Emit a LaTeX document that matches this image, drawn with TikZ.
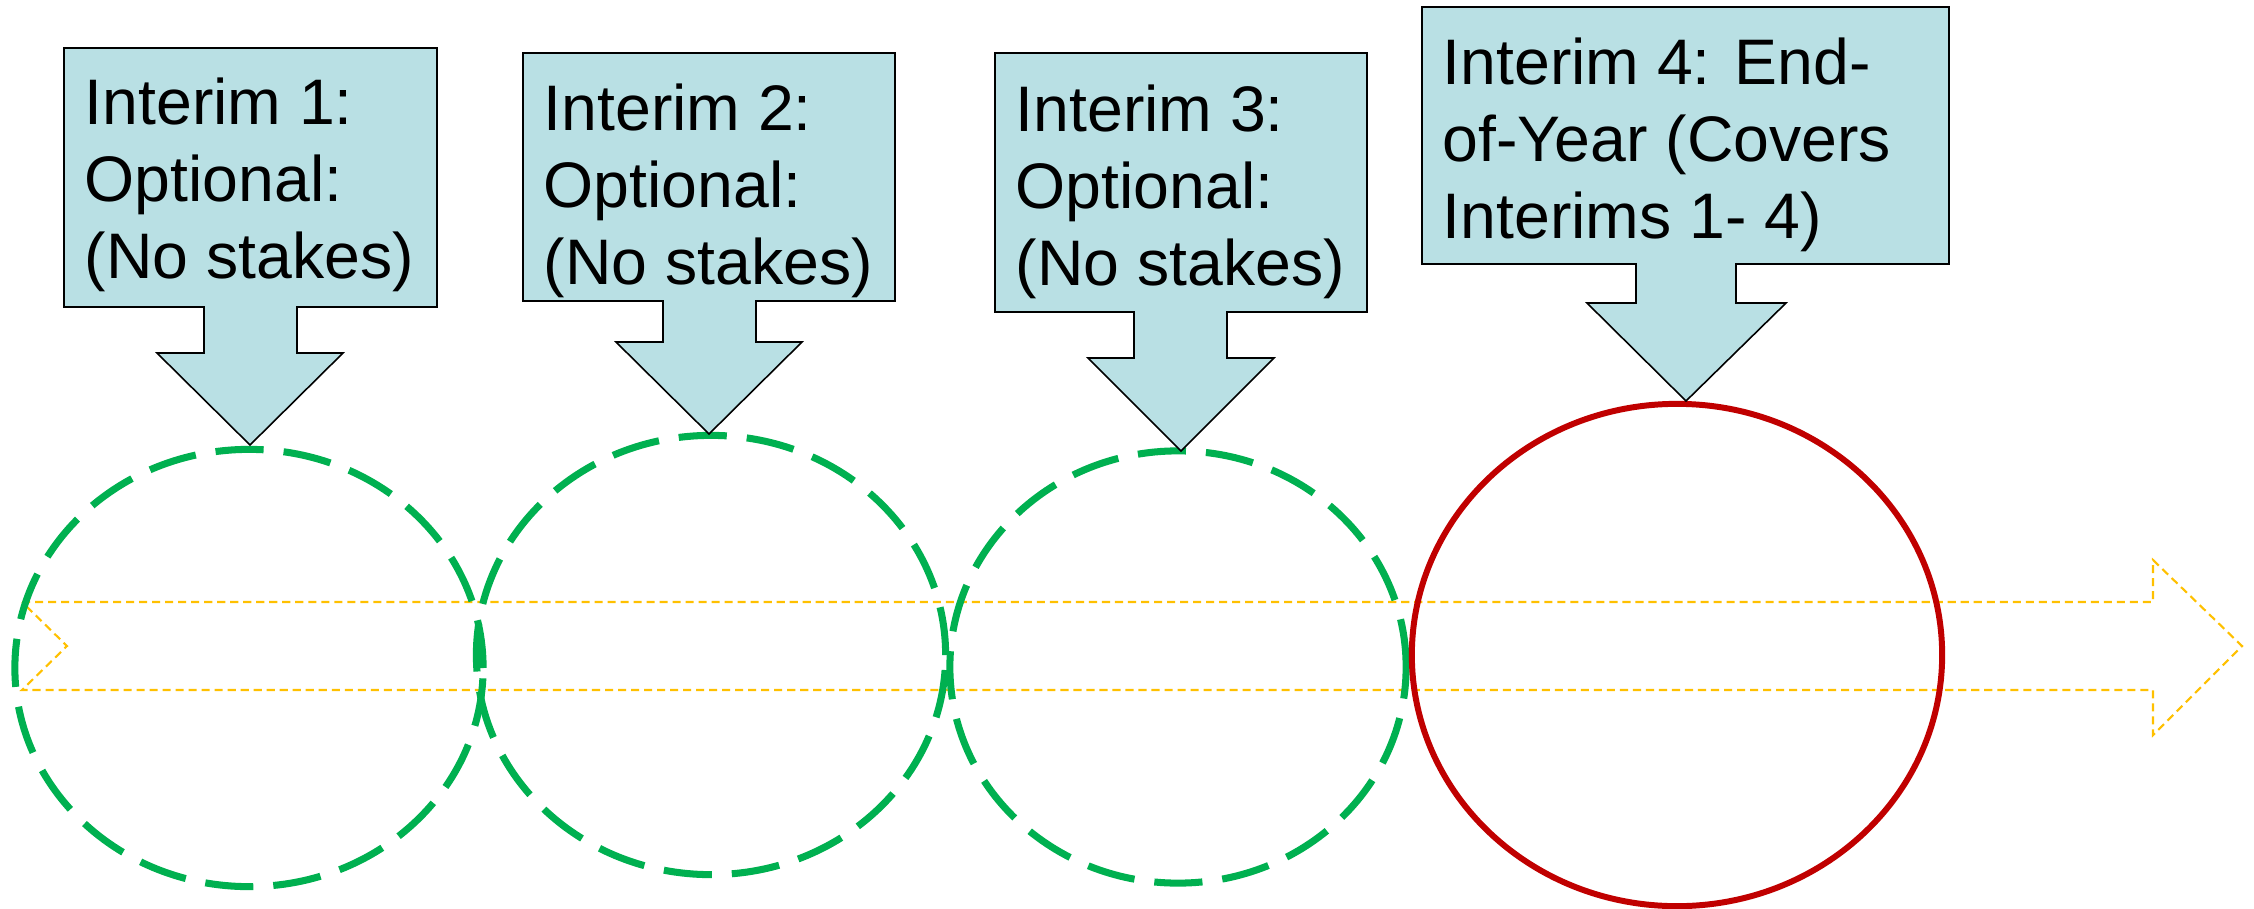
\documentclass[tikz,border=0pt]{standalone}
\usepackage{fontspec}
\setmainfont{Liberation Sans}
\usetikzlibrary{shapes.geometric}
\definecolor{calloutfill}{RGB}{185,224,228}
\definecolor{dashgreen}{RGB}{0,176,80}
\definecolor{endred}{RGB}{192,0,0}
\definecolor{flowyellow}{RGB}{255,192,0}
\tikzset{
  callout/.style={fill=calloutfill, draw=black, line width=0.45pt, line join=miter},
  calltext/.style={anchor=north west, inner sep=0pt, align=left,
    font=\fontsize{18.3}{21.9}\selectfont},
  optional/.style={ellipse, draw=dashgreen, line width=2pt,
    dash pattern=on 13.7pt off 5.7pt, inner sep=0pt},
  final/.style={ellipse, draw=endred, line width=1.7pt, inner sep=0pt},
  flow/.style={draw=flowyellow, line width=0.6pt, dash pattern=on 2.3pt off 1.4pt}
}
\begin{document}
\begin{tikzpicture}[x=0.01cm, y=-0.01cm]
\useasboundingbox (0,0) rectangle (2254,909);

% timeline block arrow
\draw[flow] (22,602) -- (2153,602) -- (2153,560) -- (2242,646) -- (2153,735)
  -- (2153,690) -- (22,690) -- (67,646) -- cycle;

% interims
\node[optional, minimum width=4.68cm, minimum height=4.37cm] (c1) at (249,668) {};
\node[optional, minimum width=4.69cm, minimum height=4.39cm] (c2) at (711,655) {};
\node[optional, minimum width=4.56cm, minimum height=4.32cm] (c3) at (1178,667) {};
\node[final, minimum width=5.30cm, minimum height=5.02cm] (c4) at (1677,655) {};

% callouts
\draw[callout] (64,48) -- (437,48) -- (437,307) -- (297,307) -- (297,353) -- (343,353)
  -- (250,445) -- (157,353) -- (204,353) -- (204,307) -- (64,307) -- cycle;
\draw[callout] (523,53) -- (895,53) -- (895,301) -- (756,301) -- (756,342) -- (802,342)
  -- (709,434) -- (616,342) -- (663,342) -- (663,301) -- (523,301) -- cycle;
\draw[callout] (995,53) -- (1367,53) -- (1367,312) -- (1227,312) -- (1227,358) -- (1274,358)
  -- (1181,451) -- (1088,358) -- (1134,358) -- (1134,312) -- (995,312) -- cycle;
\draw[callout] (1422,7) -- (1949,7) -- (1949,264) -- (1736,264) -- (1736,303) -- (1786,303)
  -- (1686,401) -- (1587,303) -- (1636,303) -- (1636,264) -- (1422,264) -- cycle;

\node[calltext] (t1) at (84,77) {Interim 1:\\Optional:\\(No stakes)};
\node[calltext] (t2) at (543,83) {Interim 2:\\Optional:\\(No stakes)};
\node[calltext] (t3) at (1015,84) {Interim 3:\\Optional:\\(No stakes)};
\node[calltext] (t4) at (1442,37) {Interim 4: End-\\of-Year (Covers\\Interims 1- 4)};
\end{tikzpicture}
\end{document}
